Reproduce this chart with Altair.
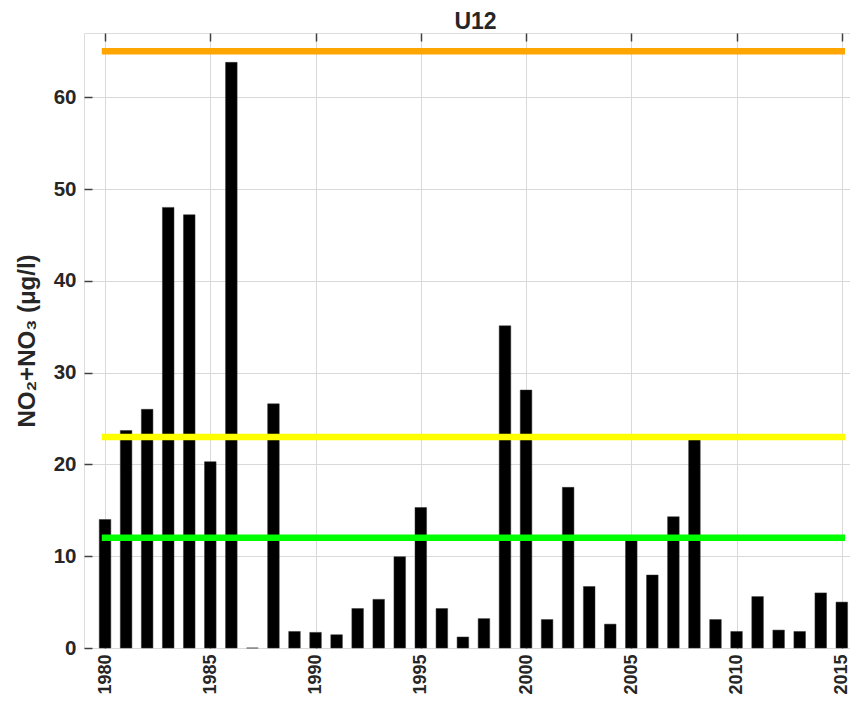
import altair as alt
import pandas as pd

# ---- data ----
years = list(range(1980, 2016))
values = [14.0, 23.7, 26.0, 48.0, 47.2, 20.3, 63.8, 0.0, 26.6, 1.8,
          1.7, 1.45, 4.3, 5.3, 9.95, 15.3, 4.3, 1.2, 3.2, 35.1,
          28.1, 3.1, 17.5, 6.7, 2.6, 11.75, 7.95, 14.3, 22.7, 3.1,
          1.8, 5.6, 1.95, 1.8, 6.0, 5.0]

limit_values = [65, 23, 12]
limit_colors = ["#FFA500", "#FFFF00", "#00FF00"]
limit_start = [1980, 1980, 1980]
limit_end = [2015, 2015, 2015]

x_ticks = [1980, 1985, 1990, 1995, 2000, 2005, 2010, 2015]
y_ticks = [0, 10, 20, 30, 40, 50, 60]

bars_df = pd.DataFrame({"year": years, "value": values})
lines_df = pd.DataFrame({"y": limit_values, "color": limit_colors,
                         "x0": limit_start, "x1": limit_end})

FONT = "Liberation Sans"
FRAME = "#404040"
GRID = "#d9d9d9"
BAR_HALF = 0.275

xscale = alt.Scale(domain=[1979, 2015.39], nice=False, zero=False)
yscale = alt.Scale(domain=[0, 67], nice=False, zero=True)

bars = alt.Chart(bars_df).transform_calculate(
    xa=f"datum.year - {BAR_HALF}", xb=f"datum.year + {BAR_HALF}", base="0"
).mark_bar(color="black", stroke="#333333", strokeWidth=0.5).encode(
    x=alt.X("xa:Q", scale=xscale, axis=alt.Axis(
        orient="bottom", values=x_ticks, format="d", labelAngle=270,
        labelFontSize=18, labelFontWeight="bold", labelColor="#262626",
        labelPadding=6, tickSize=8, tickWidth=1.5, tickColor=FRAME,
        offset=-8, domain=False, grid=True, gridColor=GRID, gridWidth=1,
        title=None, labelFont=FONT)),
    x2="xb:Q",
    y=alt.Y("value:Q", scale=yscale, axis=alt.Axis(
        orient="left", values=y_ticks, format="d",
        labelFontSize=20.5, labelFontWeight="bold", labelColor="#262626",
        labelPadding=8, tickSize=8, tickWidth=1.5, tickColor=FRAME,
        offset=-8, domain=False, grid=True, gridColor=GRID, gridWidth=1,
        title="NO₂+NO₃ (μg/l)", titleFontSize=24, titleFontWeight="bold",
        titleColor="#262626", titlePadding=14, titleFont=FONT, labelFont=FONT)),
    y2="base:Q",
)

rules = alt.Chart(lines_df).mark_rule(strokeWidth=6.5, strokeCap="square").encode(
    x=alt.X("x0:Q", scale=xscale, axis=alt.Axis(
        orient="top", values=x_ticks, labels=False, tickSize=8, tickWidth=1.5,
        tickColor=FRAME, offset=-8, domain=False, grid=False, title=None)),
    x2="x1:Q",
    y=alt.Y("y:Q", scale=yscale, axis=None),
    color=alt.Color("color:N", scale=None),
)

chart = alt.layer(bars, rules).resolve_axis(
    x="independent", y="independent"
).properties(
    width=766,
    height=615,
    autosize=alt.AutoSizeParams(type="none"),
    padding={"left": 76, "top": 25, "right": 0, "bottom": 47},
    title=alt.Title("U12", fontSize=23, fontWeight="bold", font=FONT,
                    color="#262626", offset=2, anchor="middle", dx=8.5, dy=4),
).configure_view(
    stroke=FRAME, strokeWidth=1.5
).configure(
    background="white", font=FONT
)

chart.save("out.html", embed_options={"renderer": "svg", "actions": False})
